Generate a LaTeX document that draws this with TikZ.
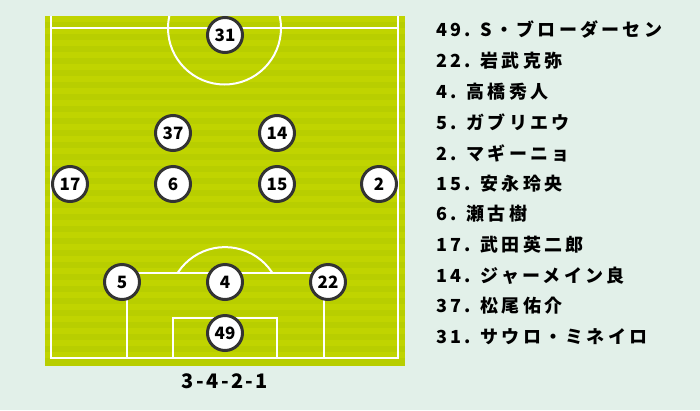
\documentclass[tikz,border=0pt]{standalone}
\usepackage{fontspec}
\setmainfont{Noto Sans CJK JP}
\definecolor{bg}{HTML}{E2F0E9}
\definecolor{grassA}{HTML}{B8CE00}
\definecolor{grassB}{HTML}{C0D400}
\definecolor{rim}{HTML}{333333}
\tikzset{
  player/.style={circle,draw=rim,line width=3pt,fill=white,minimum size=35pt,
    inner sep=0pt,font=\bfseries\fontsize{17}{17}\selectfont},
  pitchline/.style={white,line width=2pt},
  entry/.style={anchor=west,inner sep=0pt,
    font=\bfseries\fontsize{18}{18}\selectfont\addfontfeature{LetterSpace=18}}
}
\begin{document}
\begin{tikzpicture}[x=1pt,y=-1pt]
\fill[bg] (0,0) rectangle (700,410);
\useasboundingbox (0,0) rectangle (700,410);
% pitch
\fill[grassA] (45,16) rectangle (405,366);
\foreach \y in {16,28,...,352}
  \fill[grassB] (45,\y) rectangle (405,\y+6);
\draw[pitchline] (51,16) -- (51,358) -- (398,358) -- (398,16);
\draw[pitchline] (51,28) -- (398,28);
\begin{scope}
\clip (45,16) rectangle (405,366);
\draw[pitchline] (224.5,28) circle[radius=56.5];
\end{scope}
\draw[pitchline] (127,358) -- (127,273) -- (324,273) -- (324,358);
\draw[pitchline] (173,358) -- (173,318) -- (277,318) -- (277,358);
\begin{scope}
\clip (45,16) rectangle (405,273);
\draw[pitchline] (225,303.5) circle[radius=56.4];
\end{scope}
% players
\node[player] (P31) at (225,35) {31};
\node[player] (P37) at (173,133) {37};
\node[player] (P14) at (277,133) {14};
\node[player] (P17) at (70,184) {17};
\node[player] (P6) at (173,184) {6};
\node[player] (P15) at (277,184) {15};
\node[player] (P2) at (379,184) {2};
\node[player] (P5) at (122,282) {5};
\node[player] (P4) at (225,282) {4};
\node[player] (P22) at (328,282) {22};
\node[player] (P49) at (225,333) {49};
\node[font=\bfseries\fontsize{20}{20}\selectfont\addfontfeature{LetterSpace=12}] (F) at (225,381) {3-4-2-1};
% line-up
\node[entry] (L1) at (436,30) {49. S・ブローダーセン};
\node[entry] (L2) at (436,61) {22. 岩武克弥};
\node[entry] (L3) at (436,92) {4. 高橋秀人};
\node[entry] (L4) at (436,122) {5. ガブリエウ};
\node[entry] (L5) at (436,153) {2. マギーニョ};
\node[entry] (L6) at (436,184) {15. 安永玲央};
\node[entry] (L7) at (436,214) {6. 瀬古樹};
\node[entry] (L8) at (436,245) {17. 武田英二郎};
\node[entry] (L9) at (436,276) {14. ジャーメイン良};
\node[entry] (L10) at (436,306) {37. 松尾佑介};
\node[entry] (L11) at (436,337) {31. サウロ・ミネイロ};
\end{tikzpicture}
\end{document}
